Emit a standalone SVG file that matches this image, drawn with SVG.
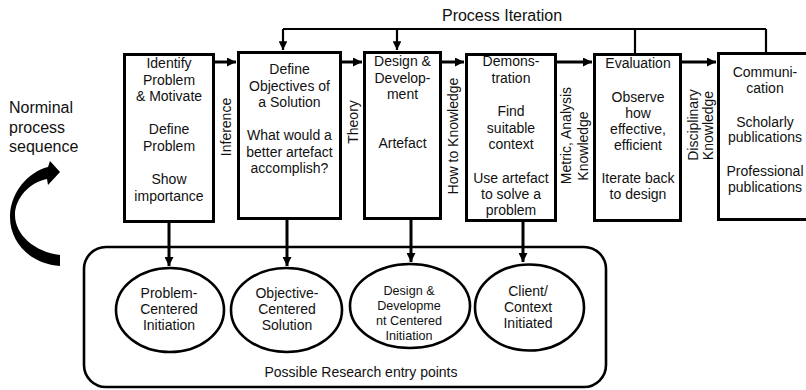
<svg xmlns="http://www.w3.org/2000/svg" width="806" height="390" viewBox="0 0 806 390">
<style>
text{font-family:"Liberation Sans",Arial,sans-serif;fill:#111;font-size:14px}
.c{text-anchor:middle}
.box{fill:#fff;stroke:#000;stroke-width:3}
.ell{fill:#fff;stroke:#000;stroke-width:2.6}
.ln{fill:none;stroke:#000;stroke-width:3}
.thin{fill:none;stroke:#000;stroke-width:2.2}
</style>
<defs>
<marker id="ah" viewBox="0 0 10 10" refX="10" refY="5" markerWidth="3" markerHeight="3" orient="auto" markerUnits="strokeWidth">
<path d="M0,0 L10,5 L0,10 Z" fill="#000"/>
</marker>
<marker id="ah2" viewBox="0 0 10 10" refX="10" refY="5" markerWidth="4" markerHeight="4" orient="auto" markerUnits="strokeWidth">
<path d="M0,0 L10,5 L0,10 Z" fill="#000"/>
</marker>
</defs>

<g id="entry-area">
<rect x="84" y="247" width="522" height="140" rx="22" ry="22" fill="none" stroke="#000" stroke-width="2.6"/>
<text class="c" x="361" y="377">Possible Research entry points</text>
</g>

<g id="connectors">
<path class="thin" d="M283,29 H766 M635,29 V53 M766,29 V53"/>
<path class="thin" d="M283,29 V50" marker-end="url(#ah2)"/>
<path class="thin" d="M397,29 V50" marker-end="url(#ah2)"/>
<path class="ln" d="M215,62 H236" marker-end="url(#ah)"/>
<path class="ln" d="M342,62 H362" marker-end="url(#ah)"/>
<path class="ln" d="M442,62 H464" marker-end="url(#ah)"/>
<path class="ln" d="M557,62 H592" marker-end="url(#ah)"/>
<path class="ln" d="M682,62 H716" marker-end="url(#ah)"/>
<path class="ln" d="M169,223 V266" marker-end="url(#ah)"/>
<path class="ln" d="M287,220 V266" marker-end="url(#ah)"/>
<path class="ln" d="M411,220 V262" marker-end="url(#ah)"/>
<path class="ln" d="M523,222 V262" marker-end="url(#ah)"/>
<text class="c" x="502" y="21" style="font-size:16px">Process Iteration</text>
<text class="c" transform="translate(231,127) rotate(-90)">Inference</text>
<text class="c" transform="translate(358,122) rotate(-90)">Theory</text>
<text class="c" transform="translate(458,136) rotate(-90)">How to Knowledge</text>
<text class="c" transform="translate(571,135.5) rotate(-90)">Metric, Analysis</text>
<text class="c" transform="translate(588,146) rotate(-90)">Knowledge</text>
<text class="c" transform="translate(698,125) rotate(-90)">Disciplinary</text>
<text class="c" transform="translate(713,125.5) rotate(-90)">Knowledge</text>
</g>

<g id="nominal-sequence">
<text x="9" y="113" style="font-size:16px">Norminal</text>
<text x="9" y="133" style="font-size:16px">process</text>
<text x="9" y="152" style="font-size:16px">sequence</text>
<path d="M60,266 C30,264 9,242 10,215 C11,192 28,172 48,167 L50,161 L60,172 L48,185 L47,179 C30,182 15,198 15,215 C15,235 35,252 60,255 Z" fill="#000"/>
</g>

<g id="identify">
<rect class="box" x="124.5" y="54.5" width="89" height="167"/>
<text class="c" x="169" y="68">Identify</text>
<text class="c" x="169" y="84.5">Problem</text>
<text class="c" x="169" y="101">&amp; Motivate</text>
<text class="c" x="169" y="134">Define</text>
<text class="c" x="169" y="150.5">Problem</text>
<text class="c" x="169" y="184">Show</text>
<text class="c" x="169" y="200.5">importance</text>
</g>

<g id="objectives">
<rect class="box" x="238.5" y="52.5" width="102" height="166"/>
<text class="c" x="289.5" y="74">Define</text>
<text class="c" x="289.5" y="90.5">Objectives of</text>
<text class="c" x="289.5" y="107">a Solution</text>
<text class="c" x="289.5" y="140">What would a</text>
<text class="c" x="289.5" y="156.5">better artefact</text>
<text class="c" x="289.5" y="173">accomplish?</text>
</g>

<g id="design">
<rect class="box" x="364.5" y="52.5" width="76" height="166"/>
<text class="c" x="402.5" y="66">Design &amp;</text>
<text class="c" x="402.5" y="82.5">Develop-</text>
<text class="c" x="402.5" y="99">ment</text>
<text class="c" x="402.5" y="148">Artefact</text>
</g>

<g id="demonstration">
<rect class="box" x="466.5" y="54.5" width="89" height="166"/>
<text class="c" x="511" y="66">Demons-</text>
<text class="c" x="511" y="82.5">tration</text>
<text class="c" x="511" y="116">Find</text>
<text class="c" x="511" y="132.5">suitable</text>
<text class="c" x="511" y="149">context</text>
<text class="c" x="511" y="182.5">Use artefact</text>
<text class="c" x="511" y="199">to solve a</text>
<text class="c" x="511" y="215">problem</text>
</g>

<g id="evaluation">
<rect class="box" x="594.5" y="54.5" width="86" height="166"/>
<text class="c" x="638" y="68">Evaluation</text>
<text class="c" x="638" y="101.5">Observe</text>
<text class="c" x="638" y="117.5">how</text>
<text class="c" x="638" y="133.5">effective,</text>
<text class="c" x="638" y="150">efficient</text>
<text class="c" x="638" y="183">Iterate back</text>
<text class="c" x="638" y="199">to design</text>
</g>

<g id="communication">
<rect class="box" x="718.5" y="53.5" width="100" height="166"/>
<text class="c" x="765" y="77">Communi-</text>
<text class="c" x="765" y="93">cation</text>
<text class="c" x="765" y="126.5">Scholarly</text>
<text class="c" x="765" y="142">publications</text>
<text class="c" x="765" y="176">Professional</text>
<text class="c" x="765" y="192">publications</text>
</g>

<g id="problem-centered">
<ellipse class="ell" cx="170" cy="310" rx="54" ry="42"/>
<text class="c" x="169" y="298">Problem-</text>
<text class="c" x="169" y="314">Centered</text>
<text class="c" x="169" y="330">Initiation</text>
</g>

<g id="objective-centered">
<ellipse class="ell" cx="286.5" cy="310" rx="55.5" ry="42"/>
<text class="c" x="287" y="298">Objective-</text>
<text class="c" x="287" y="314">Centered</text>
<text class="c" x="287" y="330">Solution</text>
</g>

<g id="design-centered">
<ellipse class="ell" cx="410" cy="306" rx="60" ry="42"/>
<text class="c" x="409" y="295" style="font-size:12.6px">Design &amp;</text>
<text class="c" x="409" y="310" style="font-size:12.6px">Developme</text>
<text class="c" x="409" y="325" style="font-size:12.6px">nt Centered</text>
<text class="c" x="409" y="340" style="font-size:12.6px">Initiation</text>
</g>

<g id="client-initiated">
<ellipse class="ell" cx="529.5" cy="307.5" rx="54.5" ry="43"/>
<text class="c" x="528" y="296">Client/</text>
<text class="c" x="528" y="312">Context</text>
<text class="c" x="528" y="328">Initiated</text>
</g>
</svg>
